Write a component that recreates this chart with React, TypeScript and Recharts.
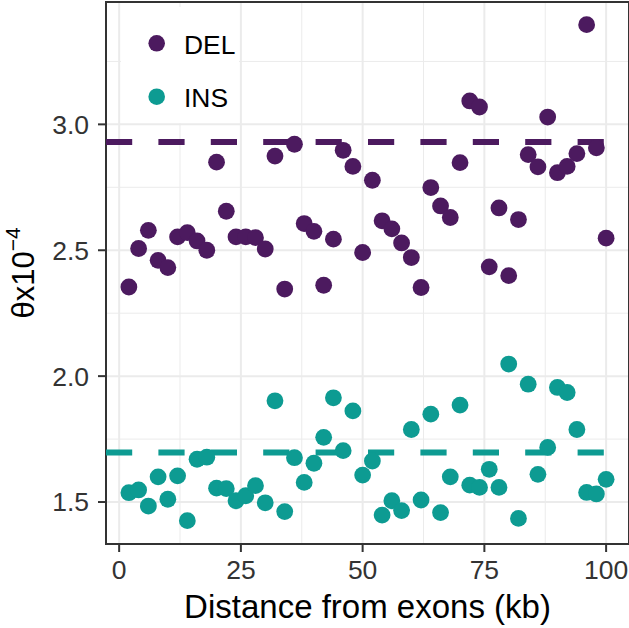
import React from 'react';
import { ScatterChart, Scatter, XAxis, YAxis, CartesianGrid, ReferenceLine, ReferenceArea } from 'recharts';

const distance = [2, 4, 6, 8, 10, 12, 14, 16, 18, 20, 22, 24, 26, 28, 30, 32, 34, 36, 38, 40, 42, 44, 46, 48, 50,
  52, 54, 56, 58, 60, 62, 64, 66, 68, 70, 72, 74, 76, 78, 80, 82, 84, 86, 88, 90, 92, 94, 96, 98, 100];

const delTheta = [2.354, 2.507, 2.579, 2.460, 2.431, 2.553, 2.570, 2.537, 2.500, 2.850,
  2.655, 2.553, 2.553, 2.550, 2.505, 2.874, 2.346, 2.921, 2.606, 2.575,
  2.361, 2.544, 2.897, 2.833, 2.491, 2.778, 2.617, 2.585, 2.529, 2.471,
  2.352, 2.749, 2.676, 2.630, 2.848, 3.093, 3.069, 2.434, 2.668, 2.399,
  2.622, 2.880, 2.831, 3.029, 2.808, 2.833, 2.884, 3.396, 2.907, 2.548];

const insTheta = [1.537, 1.548, 1.484, 1.600, 1.511, 1.604, 1.426, 1.670, 1.678, 1.555,
  1.553, 1.505, 1.525, 1.565, 1.497, 1.902, 1.462, 1.676, 1.578, 1.654,
  1.757, 1.914, 1.704, 1.862, 1.607, 1.663, 1.448, 1.505, 1.466, 1.788,
  1.508, 1.849, 1.458, 1.600, 1.885, 1.567, 1.558, 1.630, 1.558, 2.048,
  1.435, 1.968, 1.610, 1.717, 1.955, 1.935, 1.788, 1.538, 1.532, 1.590];

const delMean = 2.93;
const insMean = 1.697;

const xTicks = [0, 25, 50, 75, 100];
const xMinor = [12.5, 37.5, 62.5, 87.5];
const yTicks = [1.5, 2.0, 2.5, 3.0];
const yMinor = [1.75, 2.25, 2.75, 3.25];

const xDomain: [number, number] = [-2.7, 104.7];
const yDomain: [number, number] = [1.3333, 3.486];

const DEL_COLOR = '#4c1a5f';
const INS_COLOR = '#0d9b92';
const FONT = '"Liberation Sans", Arial, Helvetica, sans-serif';

const series = [
  { name: 'DEL', color: DEL_COLOR, values: delTheta, mean: delMean },
  { name: 'INS', color: INS_COLOR, values: insTheta, mean: insMean },
];

const toPoints = (vals: number[]) => distance.map((d, i) => ({ x: d, y: vals[i] }));

const dot = (color: string) => (props: any) => (
  <circle cx={props.cx} cy={props.cy} r={8.4} fill={color} />
);

export default function App() {
  return (
    <div style={{ position: 'absolute', left: 0, top: 0, width: 629, height: 628, background: '#fff' }}>
      <ScatterChart width={629} height={628} margin={{ top: 2, right: 0, left: 0, bottom: 0 }}>
        <CartesianGrid horizontalValues={yMinor} verticalValues={xMinor} stroke="#ebebeb" strokeWidth={1} />
        <CartesianGrid horizontalValues={yTicks} verticalValues={xTicks} stroke="#ebebeb" strokeWidth={2} />
        <XAxis
          type="number"
          dataKey="x"
          domain={xDomain}
          ticks={xTicks}
          allowDataOverflow
          height={84}
          tickSize={8}
          tickMargin={8}
          axisLine={false}
          tickLine={{ stroke: '#333', strokeWidth: 2 }}
          tick={{ fontSize: 26.5, fill: '#333', fontFamily: FONT }}
          label={{
            content: (p: any) => {
              const vb = p.viewBox || { x: 106, y: 544, width: 523, height: 84 };
              return (
                <text x={vb.x + vb.width / 2} y={vb.y + 74} textAnchor="middle" fontSize={33} fill="#000" fontFamily={FONT}>
                  Distance from exons (kb)
                </text>
              );
            },
          }}
        />
        <YAxis
          type="number"
          dataKey="y"
          domain={yDomain}
          ticks={yTicks}
          allowDataOverflow
          width={106}
          tickSize={8}
          tickMargin={9}
          axisLine={false}
          tickFormatter={(v: number) => v.toFixed(1)}
          tickLine={{ stroke: '#333', strokeWidth: 2 }}
          tick={{ fontSize: 26.5, fill: '#333', fontFamily: FONT }}
          label={{
            content: (p: any) => {
              const vb = p.viewBox || { x: 0, y: 2, width: 106, height: 542 };
              const cx = vb.x + 34;
              const cy = vb.y + vb.height / 2;
              return (
                <text x={cx} y={cy} transform={`rotate(-90, ${cx}, ${cy})`} textAnchor="middle" fontSize={31} fill="#000" fontFamily={FONT}>
                  θx10<tspan fontSize={21} dy={-14}>−4</tspan>
                </text>
              );
            },
          }}
        />
        <ReferenceArea x1={xDomain[0]} x2={xDomain[1]} y1={yDomain[0]} y2={yDomain[1]} fill="none" fillOpacity={0} stroke="#333" strokeWidth={2} ifOverflow="visible" />
        {series.map((s) => (
          <ReferenceLine key={s.name + 'm'} y={s.mean} stroke={s.color} strokeWidth={6} strokeDasharray="26.2 26.2" />
        ))}
        {series.map((s) => (
          <Scatter key={s.name} name={s.name} data={toPoints(s.values)} fill={s.color} shape={dot(s.color)} isAnimationActive={false} />
        ))}
      </ScatterChart>
      <div style={{ position: 'absolute', left: 121, top: 7, width: 118, height: 116, background: '#fff' }}>
        <svg width={118} height={116}>
          {series.map((s, i) => (
            <g key={s.name}>
              <circle cx={35.7} cy={36.3 + i * 53.4} r={8.3} fill={s.color} />
              <text x={63} y={47 + i * 52.7} fontSize={26.4} fill="#000" fontFamily={FONT}>{s.name}</text>
            </g>
          ))}
        </svg>
      </div>
    </div>
  );
}
